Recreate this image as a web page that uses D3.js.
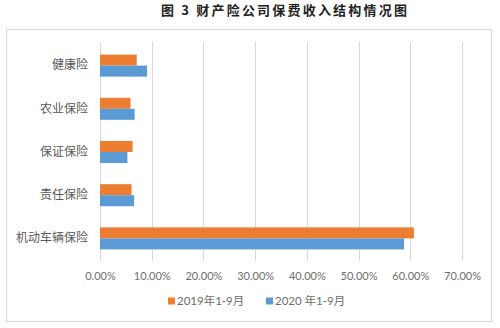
<!DOCTYPE html>
<html><head><meta charset="utf-8">
<script src="https://cdn.jsdelivr.net/npm/d3@7"></script>
<style>body{margin:0;background:#fff}svg{display:block}</style>
</head><body>
<script>
const categories = ["健康险","农业保险","保证保险","责任保险","机动车辆保险"];
const seriesNames = ["2019年1-9月","2020 年1-9月"];
const values2019 = [0.071,0.059,0.063,0.061,0.607];
const values2020 = [0.091,0.067,0.053,0.066,0.588];
const xTicks = [0,0.1,0.2,0.3,0.4,0.5,0.6,0.7];
const colors = ["#ED7D31","#5B9BD5"];

const W=500,H=328;
const svg=d3.select("body").append("svg").attr("width",W).attr("height",H);
svg.append("rect").attr("width",W).attr("height",H).attr("fill","#fff");

svg.append("text").attr("x",285).attr("y",15).attr("text-anchor","middle")
  .attr("font-family","'Noto Sans CJK SC'").attr("font-size",13).attr("font-weight","bold")
  .attr("letter-spacing",2.2).attr("fill","#222").text("图 3 财产险公司保费收入结构情况图");

svg.append("rect").attr("x",6.5).attr("y",29.5).attr("width",485).attr("height",292)
  .attr("fill","none").attr("stroke","#d9d9d9").attr("stroke-width",1);

const x=d3.scaleLinear().domain([0,0.7]).range([100,462]);
const y=d3.scaleBand().domain(categories).range([44,260]).paddingInner(0.49).paddingOuter(0.245);
const ys=d3.scaleBand().domain([0,1]).range([0,y.bandwidth()]);

const grid=svg.append("g");
grid.selectAll("line").data(xTicks).join("line")
  .attr("x1",d=>Math.round(x(d))+0.5).attr("x2",d=>Math.round(x(d))+0.5)
  .attr("y1",42).attr("y2",261).attr("stroke","#d9d9d9").attr("stroke-width",1);

const series=[values2019,values2020];
series.forEach((vals,si)=>{
  svg.append("g").selectAll("rect").data(categories).join("rect")
    .attr("x",x(0)).attr("y",(d)=>y(d)+ys(si))
    .attr("width",(d,i)=>x(vals[i])-x(0)).attr("height",ys.bandwidth())
    .attr("fill",colors[si]);
});

const yAxis=d3.axisLeft(y).tickSize(0).tickPadding(12);
const gy=svg.append("g").attr("transform","translate(100,0)").call(yAxis);
gy.select(".domain").remove();
gy.selectAll("text").attr("font-family","'Noto Sans CJK SC'").attr("font-size",12).attr("fill","#595959");

const xAxis=d3.axisBottom(x).tickValues(xTicks).tickSize(0).tickPadding(0).tickFormat(d3.format(".2%"));
const gx=svg.append("g").attr("transform","translate(0,272)").call(xAxis);
gx.select(".domain").remove();
gx.selectAll("text").attr("font-family","Lato").attr("font-size",11).attr("fill","#6d6d6d").attr("dy","0.35em").attr("y",4);

const legX=[168,266];
seriesNames.forEach((n,i)=>{
  const g=svg.append("g").attr("transform",`translate(${legX[i]},301)`);
  g.append("rect").attr("x",0).attr("y",-3.5).attr("width",7).attr("height",7).attr("fill",colors[i]);
  g.append("text").attr("x",9).attr("y",0).attr("dy","0.35em").attr("font-family","Lato, 'Noto Sans CJK SC'")
    .attr("font-size",11.5).attr("fill","#6d6d6d").text(n);
});
</script>
</body></html>
